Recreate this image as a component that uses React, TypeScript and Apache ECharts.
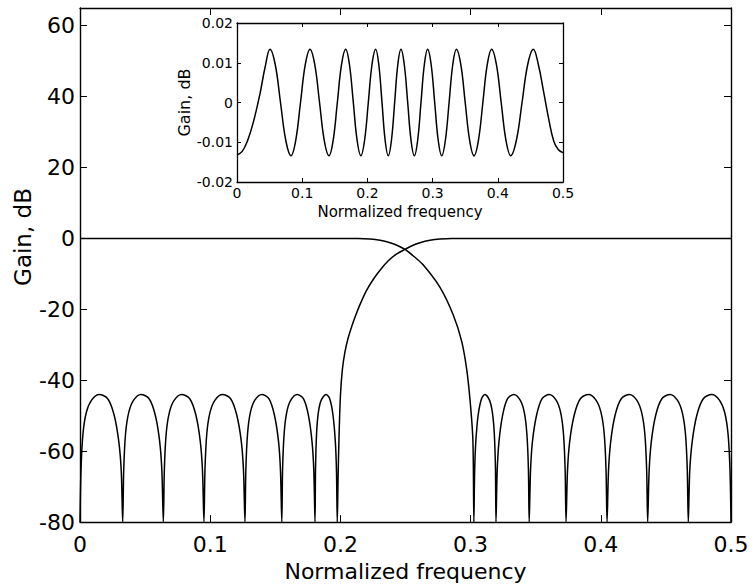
import React, { useEffect, useRef } from "react";
import * as echarts from "echarts";

// ---- Main chart data (normalized frequency, gain in dB) ----
const xTickValues = [0, 0.1, 0.2, 0.3, 0.4, 0.5];
const yTickValues = [-80, -60, -40, -20, 0, 20, 40, 60];

// High-pass: stopband lobes 0 .. 0.1976
const hpStopband: [number, number][] = [
  [0, -80], [0.0008, -65], [0.0023, -55], [0.0049, -49], [0.0089, -45.6], [0.0148, -44], [0.0213, -45.2], [0.0262, -49.8], [0.0298, -57.3], [0.0317, -65.7], [0.0328, -80],
  [0.0336, -65], [0.035, -55], [0.0375, -49], [0.0412, -45.6], [0.0468, -44], [0.0531, -45.2], [0.0578, -49.8], [0.0612, -57.3], [0.0629, -65.7], [0.064, -80],
  [0.0648, -65], [0.0662, -55], [0.0687, -49], [0.0724, -45.6], [0.078, -44], [0.0843, -45.2], [0.089, -49.8], [0.0924, -57.3], [0.0941, -65.7], [0.0952, -80],
  [0.096, -65], [0.0974, -55], [0.0999, -49], [0.1037, -45.6], [0.1094, -44], [0.1157, -45.2], [0.1204, -49.8], [0.1239, -57.3], [0.1256, -65.7], [0.1267, -80],
  [0.1274, -65], [0.1287, -55], [0.1309, -49], [0.1343, -45.6], [0.1397, -44], [0.1451, -45.2], [0.1493, -49.8], [0.1525, -57.3], [0.154, -65.7], [0.155, -80],
  [0.1556, -65], [0.1568, -55], [0.1588, -49], [0.1619, -45.6], [0.1668, -44], [0.1716, -45.2], [0.1754, -49.8], [0.1782, -57.3], [0.1796, -65.7], [0.1805, -80],
  [0.1809, -65], [0.1817, -55], [0.1831, -49], [0.1853, -45.6], [0.189, -44], [0.1918, -45.2], [0.1943, -49.8], [0.1961, -57.3], [0.197, -65.7], [0.1976, -80],
];
// High-pass: transition and passband
const hpTransition: [number, number][] = [
  [0.1982, -67.8], [0.1989, -56.6], [0.2, -44.5], [0.2015, -37], [0.2035, -32], [0.206, -28], [0.209, -24.5], [0.2112, -22.2], [0.2151, -18.6], [0.2197, -14.9], [0.2253, -11.5], [0.2312, -8.6], [0.2368, -6.3], [0.2427, -4.5], [0.2496, -3.1], [0.255, -2.05], [0.2611, -1.2], [0.2688, -0.5], [0.2765, -0.14], [0.2857, 0], [0.5, 0],
];

// Low-pass: passband and transition
const lpTransition: [number, number][] = [
  [0, 0], [0.2135, 0], [0.2227, -0.14], [0.2304, -0.5], [0.2381, -1.2], [0.2442, -2.05], [0.2496, -3.1], [0.2565, -5.1], [0.2637, -7.5], [0.2765, -13.8], [0.2867, -21.6], [0.2932, -29.1], [0.297, -36.9], [0.2995, -45.3], [0.3016, -55.5], [0.3021, -64], [0.3025, -80],
];
// Low-pass: stopband lobes 0.3025 .. 0.5
const lpStopband: [number, number][] = [
  [0.3031, -65.7], [0.304, -57.3], [0.3058, -49.8], [0.3084, -45.2], [0.311, -44], [0.3145, -45.6], [0.3167, -49], [0.3182, -55], [0.3191, -65], [0.3195, -80],
  [0.3204, -65.7], [0.3218, -57.3], [0.3246, -49.8], [0.3284, -45.2], [0.3332, -44], [0.3381, -45.6], [0.3412, -49], [0.3432, -55], [0.3444, -65], [0.345, -80],
  [0.346, -65.7], [0.3475, -57.3], [0.3507, -49.8], [0.3549, -45.2], [0.3603, -44], [0.3657, -45.6], [0.3691, -49], [0.3713, -55], [0.3726, -65], [0.3733, -80],
  [0.3744, -65.7], [0.3761, -57.3], [0.3796, -49.8], [0.3843, -45.2], [0.3906, -44], [0.3963, -45.6], [0.4001, -49], [0.4026, -55], [0.404, -65], [0.4048, -80],
  [0.4059, -65.7], [0.4076, -57.3], [0.411, -49.8], [0.4157, -45.2], [0.422, -44], [0.4276, -45.6], [0.4313, -49], [0.4338, -55], [0.4352, -65], [0.436, -80],
  [0.4371, -65.7], [0.4388, -57.3], [0.4422, -49.8], [0.4469, -45.2], [0.4532, -44], [0.4588, -45.6], [0.4625, -49], [0.465, -55], [0.4664, -65], [0.4672, -80],
  [0.4683, -65.7], [0.4702, -57.3], [0.4738, -49.8], [0.4787, -45.2], [0.4852, -44], [0.4911, -45.6], [0.4951, -49], [0.4977, -55], [0.4992, -65], [0.5, -80],
];

// ---- Inset data: passband ripple (gain in dB) ----
const insetXTicks = [0, 0.1, 0.2, 0.3, 0.4, 0.5];
const insetYTicks = [-0.02, -0.01, 0, 0.01, 0.02];
const insetRipple: [number, number][] = [
  [0, -0.0132], [0.008, -0.0123], [0.016, -0.0097], [0.025, -0.005], [0.035, 0.002], [0.043, 0.0088], [0.0506, 0.0134],
  [0.0587, 0.0095], [0.0667, 0], [0.0748, -0.0095], [0.0828, -0.0134],
  [0.0901, -0.0095], [0.0974, 0], [0.1047, 0.0095], [0.112, 0.0134],
  [0.1193, 0.0095], [0.1266, 0], [0.1338, -0.0095], [0.1411, -0.0134],
  [0.1475, -0.0095], [0.1539, 0], [0.1603, 0.0095], [0.1667, 0.0134],
  [0.1725, 0.0095], [0.1784, 0], [0.1842, -0.0095], [0.19, -0.0134],
  [0.1957, -0.0095], [0.2014, 0], [0.207, 0.0095], [0.2127, 0.0134],
  [0.2175, 0.0095], [0.2224, 0], [0.2272, -0.0095], [0.232, -0.0134],
  [0.2369, -0.0095], [0.2418, 0], [0.2466, 0.0095], [0.2515, 0.0134],
  [0.2566, 0.0095], [0.2618, 0], [0.2669, -0.0095], [0.272, -0.0134],
  [0.2771, -0.0095], [0.2822, 0], [0.2873, 0.0095], [0.2924, 0.0134],
  [0.2978, 0.0095], [0.3032, 0], [0.3086, -0.0095], [0.314, -0.0134],
  [0.3196, -0.0095], [0.3253, 0], [0.3309, 0.0095], [0.3365, 0.0134],
  [0.3433, 0.0095], [0.35, 0], [0.3568, -0.0095], [0.3635, -0.0134],
  [0.3703, -0.0095], [0.3771, 0], [0.3838, 0.0095], [0.3906, 0.0134],
  [0.3979, 0.0095], [0.4052, 0], [0.4125, -0.0095], [0.4198, -0.0134],
  [0.4285, -0.0095], [0.4372, 0], [0.4458, 0.0095], [0.4545, 0.0134],
  [0.4625, 0.0093], [0.4705, 0.0025], [0.4785, -0.0045], [0.486, -0.0098], [0.493, -0.0119], [0.5, -0.0126],
];

const FONT = "'DejaVu Sans', 'Liberation Sans', Arial, sans-serif";
const BLACK = "#000";

function axisCommon(lw: number, tickLen: number) {
  return {
    axisLine: { show: true, onZero: false, lineStyle: { color: BLACK, width: lw } },
    axisTick: { show: true, inside: true, length: tickLen, lineStyle: { color: BLACK, width: 1 } },
    splitLine: { show: false },
  };
}

export default function App() {
  const ref = useRef<HTMLDivElement>(null);
  useEffect(() => {
    document.body.style.margin = "0";
    if (!ref.current) return;
    const chart = echarts.init(ref.current, undefined, { renderer: "svg" });
    const xMin = xTickValues[0];
    const xMax = xTickValues[xTickValues.length - 1];
    const yMin = yTickValues[0];
    const ixMin = insetXTicks[0];
    const ixMax = insetXTicks[insetXTicks.length - 1];
    const iyMin = insetYTicks[0];
    const iyMax = insetYTicks[insetYTicks.length - 1];

    const option: any = {
      animation: false,
      backgroundColor: "#fff",
      textStyle: { fontFamily: FONT },
      grid: [
        { left: 80, top: 8, width: 651, height: 515 },
        { left: 237, top: 23, width: 326, height: 159 },
      ],
      xAxis: [
        {
          gridIndex: 0, type: "value", position: "bottom", min: xMin, max: xMax, interval: 0.1,
          ...axisCommon(1.4, 7),
          axisLabel: { color: BLACK, fontSize: 22, margin: 11, fontFamily: FONT },
          name: "Normalized frequency", nameLocation: "middle", nameGap: 37,
          nameTextStyle: { color: BLACK, fontSize: 22, fontFamily: FONT },
        },
        {
          gridIndex: 0, type: "value", position: "top", min: xMin, max: xMax, interval: 0.1,
          ...axisCommon(1.4, 7), axisLabel: { show: false },
        },
        {
          gridIndex: 1, type: "value", position: "bottom", min: ixMin, max: ixMax, interval: 0.1,
          ...axisCommon(1.3, 4),
          axisLabel: { color: BLACK, fontSize: 14, margin: 4, fontFamily: FONT },
          name: "Normalized frequency", nameLocation: "middle", nameGap: 22,
          nameTextStyle: { color: BLACK, fontSize: 15, fontFamily: FONT },
        },
        {
          gridIndex: 1, type: "value", position: "top", min: ixMin, max: ixMax, interval: 0.1,
          ...axisCommon(1.3, 4), axisLabel: { show: false },
        },
      ],
      yAxis: [
        {
          gridIndex: 0, type: "value", position: "left", min: yMin, max: 65, interval: 20,
          ...axisCommon(1.4, 7),
          axisLabel: { color: BLACK, fontSize: 22, margin: 5, fontFamily: FONT, showMaxLabel: false },
        },
        {
          gridIndex: 0, type: "value", position: "right", min: yMin, max: 65, interval: 20,
          ...axisCommon(1.4, 7), axisLabel: { show: false },
        },
        {
          gridIndex: 1, type: "value", position: "left", min: iyMin, max: iyMax, interval: 0.01,
          ...axisCommon(1.3, 4),
          axisLabel: { color: BLACK, fontSize: 14, margin: 4, fontFamily: FONT },
          name: "Gain, dB", nameLocation: "middle", nameGap: 38,
          nameTextStyle: { color: BLACK, fontSize: 16, fontFamily: FONT },
        },
        {
          gridIndex: 1, type: "value", position: "right", min: iyMin, max: iyMax, interval: 0.01,
          ...axisCommon(1.3, 4), axisLabel: { show: false },
        },
      ],
      graphic: [
        {
          type: "text", x: 23, y: 237, rotation: Math.PI / 2,
          style: { text: "Gain, dB", fontSize: 23, fontFamily: FONT, fill: BLACK, align: "center", verticalAlign: "middle" },
        },
      ],
      series: [
        {
          name: "Low-pass", type: "line", xAxisIndex: 0, yAxisIndex: 0,
          data: [...lpTransition, ...lpStopband], showSymbol: false, smooth: 0.3, clip: true,
          lineStyle: { color: BLACK, width: 1.5 },
        },
        {
          name: "High-pass", type: "line", xAxisIndex: 0, yAxisIndex: 0,
          data: [...hpStopband, ...hpTransition], showSymbol: false, smooth: 0.3, clip: true,
          lineStyle: { color: BLACK, width: 1.5 },
        },
        {
          name: "Ripple", type: "line", xAxisIndex: 2, yAxisIndex: 2,
          data: insetRipple, showSymbol: false, smooth: 0.4, clip: true,
          lineStyle: { color: BLACK, width: 1.5 },
        },
      ],
    };
    chart.setOption(option);
    return () => chart.dispose();
  }, []);
  return <div ref={ref} style={{ width: 754, height: 587 }} />;
}
